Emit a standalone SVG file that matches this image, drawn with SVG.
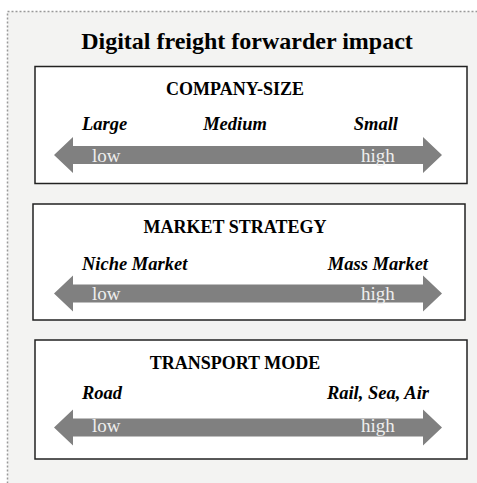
<svg xmlns="http://www.w3.org/2000/svg" width="477" height="483" viewBox="0 0 477 483">
<style>
.frame{fill:#f3f3f2;stroke:#999;stroke-width:1.5;stroke-dasharray:2 2}
.box{fill:#fff;stroke:#222;stroke-width:1.5}
.arrow{fill:#808080}
.title{font-family:"Liberation Serif",serif;font-weight:bold;font-size:24px;fill:#000}
.head{font-family:"Liberation Serif",serif;font-weight:bold;font-size:18px;fill:#000}
.lab{font-family:"Liberation Serif",serif;font-weight:bold;font-style:italic;font-size:18.5px;fill:#000}
.lh{font-family:"Liberation Serif",serif;font-size:19px;fill:#eeeeee}
</style>
<defs>
<path id="arr" d="M0,0 L19,-18 L19,-9 L369,-9 L369,-18 L388,0 L369,18 L369,9 L19,9 L19,18 Z"/>
</defs>
<rect class="frame" x="7.5" y="11.5" width="480" height="480"/>
<text class="title" x="247" y="49" text-anchor="middle">Digital freight forwarder impact</text>
<g id="company-size">
<rect class="box" x="35" y="66.5" width="432" height="117"/>
<text class="head" x="235" y="95" text-anchor="middle">COMPANY-SIZE</text>
<text class="lab" x="82" y="130">Large</text>
<text class="lab" x="235" y="130" text-anchor="middle">Medium</text>
<text class="lab" x="398" y="130" text-anchor="end">Small</text>
<use href="#arr" class="arrow" x="54" y="155"/>
<text class="lh" x="92" y="162">low</text>
<text class="lh" x="361" y="162">high</text>
</g>
<g id="market-strategy">
<rect class="box" x="33" y="204" width="432" height="116"/>
<text class="head" x="235" y="233" text-anchor="middle">MARKET STRATEGY</text>
<text class="lab" x="82" y="270">Niche Market</text>
<text class="lab" x="428" y="270" text-anchor="end">Mass Market</text>
<use href="#arr" class="arrow" x="54" y="293.5"/>
<text class="lh" x="92" y="300">low</text>
<text class="lh" x="361" y="300">high</text>
</g>
<g id="transport-mode">
<rect class="box" x="35" y="340" width="432" height="119"/>
<text class="head" x="235" y="369" text-anchor="middle">TRANSPORT MODE</text>
<text class="lab" x="82" y="399">Road</text>
<text class="lab" x="429" y="399" text-anchor="end">Rail, Sea, Air</text>
<use href="#arr" class="arrow" x="54" y="427.5"/>
<text class="lh" x="92" y="432">low</text>
<text class="lh" x="361" y="432">high</text>
</g>
<g id="connectors"></g>
</svg>
